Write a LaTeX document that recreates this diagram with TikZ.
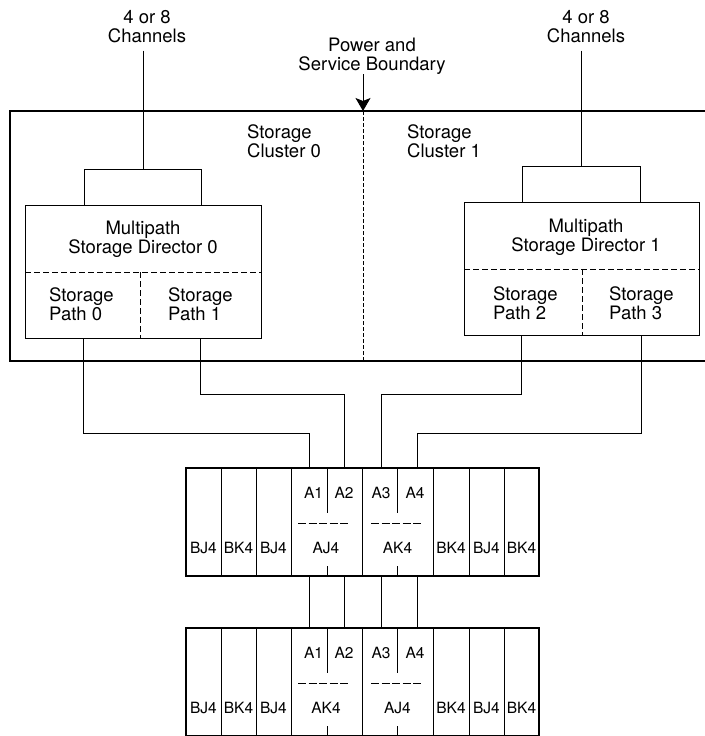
\documentclass[tikz,border=0pt]{standalone}
\usepackage{fontspec}
\setmainfont{TeX Gyre Heros}
\usetikzlibrary{positioning,arrows.meta}

\newcommand{\bigfont}{\fontsize{18.5}{19}\selectfont}
\newcommand{\rackfont}{\fontsize{15.5}{17}\selectfont}

\tikzset{
  wire/.style={line width=0.9pt},
  frame/.style={draw, line width=2.5pt, inner sep=0pt, outer sep=0pt},
  dirbox/.style={draw, line width=0.9pt, minimum width=236pt, minimum height=133pt, inner sep=0pt, outer sep=0pt},
  hubbox/.style={draw, line width=0.9pt, minimum width=117pt, minimum height=36pt, inner sep=0pt, outer sep=0pt},
  rackbox/.style={draw, line width=2pt, minimum width=353pt, minimum height=108pt, inner sep=0pt, outer sep=0pt},
  txt/.style={font=\bigfont, inner sep=0pt},
  rtxt/.style={font=\rackfont, inner sep=0pt},
}

\begin{document}
\begin{tikzpicture}[x=1pt, y=-1pt]
\useasboundingbox (0,0) rectangle (704,736);

% cluster frame (runs off on the right)
\node[frame, minimum width=700pt, minimum height=250pt, anchor=north west] (cluster) at (10,111) {};
\coordinate (bndtop) at ([xshift=353pt]cluster.north west);
\coordinate (bndbot) at ([xshift=353pt]cluster.south west);
\draw[wire, dash pattern=on 4pt off 2pt] (bndtop) -- (bndbot);

% two-line labels sit on the baseline of their last line
\node[txt, anchor=base, align=center] (power) at (372,70) {Power and\\Service Boundary};
\draw[wire, -{Stealth[length=13pt,width=15pt,inset=3pt]}] (power.south -| bndtop) -- (bndtop);

\node[txt, anchor=base west, align=left] (clu0) at (247,157) {Storage\\Cluster 0};
\node[txt, anchor=base west, align=left] (clu1) at (407,157) {Storage\\Cluster 1};

% directors
\node[dirbox, anchor=north west] (dir0) at (25,205) {};
\node[hubbox, above=0pt of dir0] (hub0) {};
\node[dirbox, minimum width=235pt, anchor=north west] (dir1) at (464,202) {};
\node[hubbox, minimum width=118pt, above=0pt of dir1] (hub1) {};

\node[txt, anchor=base, align=center] (chan0) at (147,42) {4 or 8\\Channels};
\node[txt, anchor=base, align=center] (chan1) at (586,42) {4 or 8\\Channels};
\draw[wire] (chan0.south -| hub0.north) ++(0,8) -- (hub0.north);
\draw[wire] (chan1.south -| hub1.north) ++(0,8) -- (hub1.north);

\node[txt, anchor=base, align=center] (md0) at (143,253) {Multipath\\Storage Director 0};
\node[txt, anchor=base west, align=left] (path0) at (49,320) {Storage\\Path 0};
\node[txt, anchor=base west, align=left] (path1) at (168,320) {Storage\\Path 1};
\node[txt, anchor=base, align=center] (md1) at (586,251) {Multipath\\Storage Director 1};
\node[txt, anchor=base west, align=left] (path2) at (493,319) {Storage\\Path 2};
\node[txt, anchor=base west, align=left] (path3) at (609,319) {Storage\\Path 3};

\draw[wire, dash pattern=on 6pt off 3pt] ([shift={(0,67)}]dir0.north west) -- ([shift={(0,67)}]dir0.north east);
\draw[wire, dash pattern=on 6pt off 3pt] ([shift={(115,67)}]dir0.north west) -- ([xshift=115pt]dir0.south west);
\draw[wire, dash pattern=on 6pt off 3pt] ([shift={(0,67)}]dir1.north west) -- ([shift={(0,67)}]dir1.north east);
\draw[wire, dash pattern=on 6pt off 3pt] ([shift={(118,67)}]dir1.north west) -- ([xshift=118pt]dir1.south west);

% the two racks
\foreach \rk/\ry/\ml/\mr in {rackA/468/AJ4/AK4, rackB/628/AK4/AJ4} {
  \node[rackbox, anchor=north west] (\rk) at (186,\ry) {};
  \foreach \dx in {35,70,105,176,247,283,318}
    \draw[wire] ([xshift=\dx pt]\rk.north west) -- ([xshift=\dx pt]\rk.south west);
  \foreach \x/\lab [count=\i] in {17.5/BJ4,52.5/BK4,87.5/BJ4,140/\ml,211.5/\mr,265/BK4,300.5/BJ4,335.5/BK4}
    \node[rtxt, anchor=base] (\rk-\i) at ([shift={(\x,85)}]\rk.north west) {\lab};
  \foreach \x/\lab in {127.5/A1,158/A2,195/A3,229/A4}
    \node[rtxt, anchor=base] (\rk-\lab) at ([shift={(\x,30)}]\rk.north west) {\lab};
  \foreach \dx in {141,211.5} {
    \draw[wire] ([xshift=\dx pt]\rk.north west) -- ++(0,45);
    \draw[wire] ([xshift=\dx pt]\rk.south west) -- ++(0,-10);
  }
  \draw[wire, dash pattern=on 8pt off 2.5pt] ([shift={(112,55)}]\rk.north west) -- ++(52,0);
  \draw[wire, dash pattern=on 8pt off 2.5pt] ([shift={(185,55)}]\rk.north west) -- ++(51,0);
}

% paths down to the racks
\draw[wire] ([xshift=58pt]dir0.south west) -- ++(0,95) -| ([xshift=123pt]rackA.north west);
\draw[wire] ([xshift=175pt]dir0.south west) -- ++(0,56) -| ([xshift=158pt]rackA.north west);
\draw[wire] ([xshift=57pt]dir1.south west) -- ++(0,59) -| ([xshift=195pt]rackA.north west);
\draw[wire] ([xshift=177pt]dir1.south west) -- ++(0,98) -| ([xshift=231pt]rackA.north west);
\foreach \dx in {123,158,195,231}
  \draw[wire] ([xshift=\dx pt]rackA.south west) -- ([xshift=\dx pt]rackB.north west);
\end{tikzpicture}
\end{document}
